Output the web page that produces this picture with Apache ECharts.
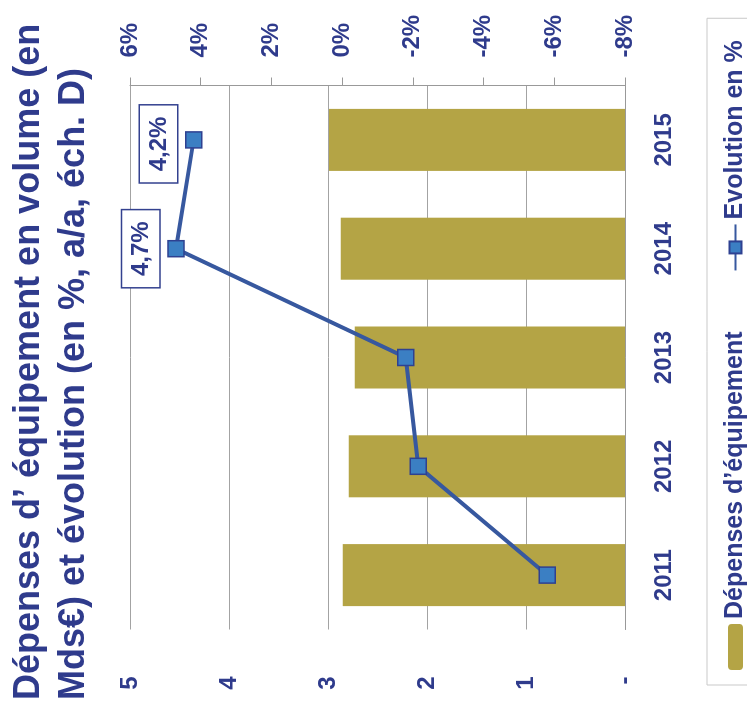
<!DOCTYPE html>
<html>
<head>
<meta charset="utf-8">
<script src="https://cdn.jsdelivr.net/npm/echarts@6/dist/echarts.min.js"></script>
<style>
  html, body { margin: 0; padding: 0; width: 747px; height: 713px; overflow: hidden; background: #fff; }
  /* The chart is laid out upright, then turned a quarter turn to lie on its side */
  #chart {
    position: absolute; left: 0; top: 0;
    width: 713px; height: 747px;
    transform-origin: 0 0;
    transform: translateY(713px) rotate(-90deg);
  }
</style>
</head>
<body>
<div id="chart"></div>
<script>
// Years on the category axis
const categories = ['2011', '2012', '2013', '2014', '2015'];
// Capital spending, volume, in billions of euros (left scale)
const depenses = [2.85, 2.79, 2.73, 2.87, 2.99];
// Year-on-year change in % (right scale)
const evolution = [-5.8, -2.15, -1.8, 4.7, 4.2];
// Points that carry a boxed value label
const labelled = [false, false, false, true, true];
const labelShift = [0, 0, 0, 0, -4];
// Tick labels of both value axes
const leftTicks = ['-', '1', '2', '3', '4', '5'];
const rightTicks = ['-8%', '-6%', '-4%', '-2%', '0%', '2%', '4%', '6%'];

const ink = '#2f3b8c';
const font = "'Liberation Sans', Arial, sans-serif";
const gridGrey = '#a3a3a3';

const chart = echarts.init(document.getElementById('chart'), null, { renderer: 'canvas', devicePixelRatio: 1 });

chart.setOption({
  animation: false,
  backgroundColor: '#ffffff',
  title: {
    text: 'Dépenses d\u2019 équipement en volume (en\nMds€) et évolution (en %, a/a, éch. D)',
    left: 8,
    top: 2,
    textStyle: { fontFamily: font, fontSize: 36, fontWeight: 'bold', color: ink, lineHeight: 45 }
  },
  grid: { left: 83.5, right: 85.5, top: 130, bottom: 122, containLabel: false },
  legend: {
    left: 28,
    top: 707,
    orient: 'horizontal',
    padding: [16, 22, 16, 15],
    itemGap: 60,
    itemWidth: 46,
    itemHeight: 15,
    borderColor: '#c9c9c9',
    borderWidth: 1,
    textStyle: { fontFamily: font, fontSize: 25, fontWeight: 'bold', color: ink },
    data: ['Dépenses d\u2019équipement', 'Evolution en %']
  },
  xAxis: {
    type: 'category',
    data: categories,
    axisLine: { show: true, lineStyle: { color: '#999999', width: 1 } },
    axisTick: { show: false },
    axisLabel: { margin: 27, fontFamily: font, fontSize: 24, fontWeight: 'bold', color: ink }
  },
  yAxis: [
    {
      type: 'value',
      position: 'left',
      min: 0, max: 5, interval: 1,
      axisLine: { show: false },
      axisTick: { show: false },
      splitLine: { show: true, lineStyle: { color: gridGrey, width: 1 } },
      axisLabel: {
        margin: 47, fontFamily: font, fontSize: 24, fontWeight: 'bold', color: ink,
        formatter: v => leftTicks[Math.round(v)]
      }
    },
    {
      type: 'value',
      position: 'right',
      min: -8, max: 6, interval: 2,
      axisLine: { show: true, lineStyle: { color: '#999999', width: 1 } },
      axisTick: { show: true, inside: false, length: 8, lineStyle: { color: '#999999' } },
      splitLine: { show: false },
      axisLabel: {
        margin: 28, fontFamily: font, fontSize: 24, fontWeight: 'bold', color: ink,
        formatter: v => rightTicks[Math.round((v + 8) / 2)]
      }
    }
  ],
  series: [
    {
      name: 'Dépenses d\u2019équipement',
      type: 'bar',
      yAxisIndex: 0,
      data: depenses,
      barWidth: '57%',
      itemStyle: { color: '#b4a445' },
      z: 2
    },
    {
      name: 'Evolution en %',
      type: 'line',
      yAxisIndex: 1,
      data: evolution.map((v, i) => ({
        value: v,
        label: { show: labelled[i], offset: [labelShift[i], 0] }
      })),
      symbol: 'rect',
      symbolSize: 16,
      lineStyle: { color: '#37589f', width: 4 },
      itemStyle: { color: '#3b7fc3', borderColor: '#2e4191', borderWidth: 1.5 },
      label: {
        position: 'top',
        distance: 8,
        formatter: p => p.value.toFixed(1).replace('.', ',') + '%',
        fontFamily: font, fontSize: 24, fontWeight: 'bold', color: ink,
        backgroundColor: '#ffffff',
        borderColor: '#33418f',
        borderWidth: 1.5,
        padding: [7, 11, 6, 11]
      },
      z: 3
    }
  ]
});
</script>
</body>
</html>
